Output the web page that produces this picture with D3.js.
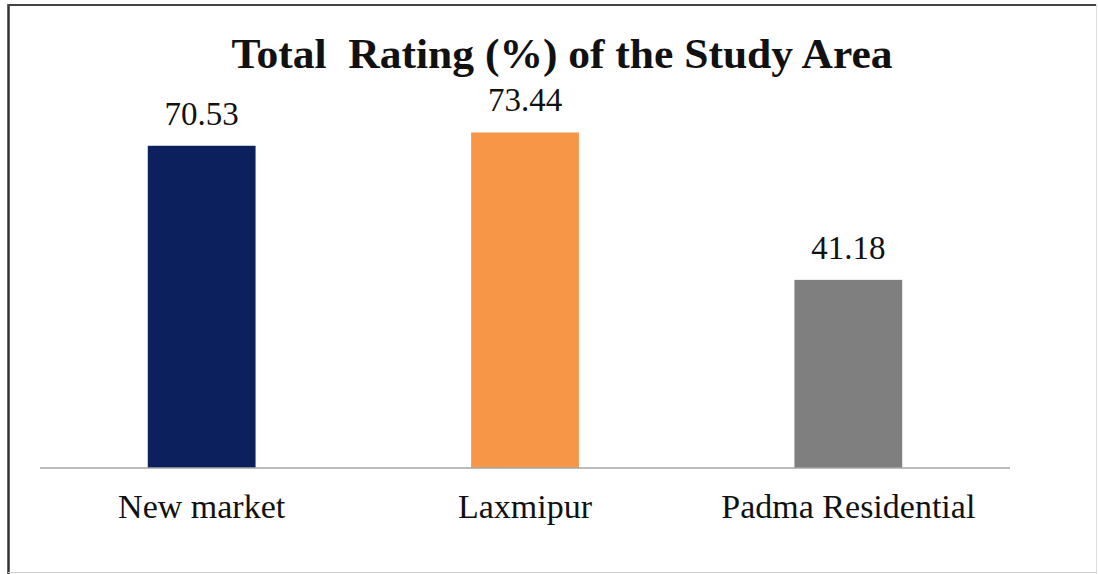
<!DOCTYPE html>
<html>
<head>
<meta charset="utf-8">
<script src="https://cdn.jsdelivr.net/npm/d3@7"></script>
<style>
  body { margin: 0; background: #fff; }
  text { font-family: "Liberation Serif", "Times New Roman", serif; fill: #111; }
</style>
</head>
<body>
<svg id="chart" width="1098" height="574"></svg>
<script>
/* chart data */
var categories = ["New market", "Laxmipur", "Padma Residential"];
var ratings = [70.53, 73.44, 41.18];
var barColors = ["#0c205e", "#f79646", "#7f7f7f"];

(function() {
  var svg = d3.select("#chart");

  // frame round the chart
  svg.append("line").attr("x1", 8.5).attr("y1", 4).attr("x2", 8.5).attr("y2", 574)
    .attr("stroke", "#333").attr("stroke-width", 2.5);
  svg.append("line").attr("x1", 8).attr("y1", 5).attr("x2", 1097).attr("y2", 5)
    .attr("stroke", "#444").attr("stroke-width", 2);
  svg.append("line").attr("x1", 1096.5).attr("y1", 4).attr("x2", 1096.5).attr("y2", 574)
    .attr("stroke", "#ddd").attr("stroke-width", 1);
  svg.append("line").attr("x1", 8).attr("y1", 572.5).attr("x2", 1097).attr("y2", 572.5)
    .attr("stroke", "#ccc").attr("stroke-width", 1);

  var x = d3.scaleBand()
    .domain(categories)
    .range([40, 1010])
    .paddingInner(2 / 3)
    .paddingOuter(1 / 3);

  var y = d3.scaleLinear()
    .domain([0, 80])
    .range([468, 102.5]);

  // bars
  svg.selectAll("rect.bar")
    .data(ratings)
    .enter().append("rect")
    .attr("class", "bar")
    .attr("x", function(d, i) { return x(categories[i]); })
    .attr("y", function(d) { return y(d); })
    .attr("width", x.bandwidth())
    .attr("height", function(d) { return y(0) - y(d); })
    .attr("fill", function(d, i) { return barColors[i]; });

  // baseline (category axis)
  var xAxis = svg.append("g")
    .attr("transform", "translate(0," + y(0) + ")")
    .call(d3.axisBottom(x).tickSize(0).tickPadding(26));
  xAxis.select(".domain").attr("stroke", "#a6a6a6").attr("stroke-width", 1.5)
    .attr("d", "M40,0H1010");
  xAxis.selectAll("text")
    .style("font-family", "'Liberation Serif', serif")
    .style("font-size", "34px")
    .attr("fill", "#111");

  // value labels
  svg.selectAll("text.value")
    .data(ratings)
    .enter().append("text")
    .attr("class", "value")
    .attr("x", function(d, i) { return x(categories[i]) + x.bandwidth() / 2; })
    .attr("y", function(d) { return y(d) - 21; })
    .attr("text-anchor", "middle")
    .style("font-size", "33px")
    .text(function(d) { return d.toFixed(2); });

  // title
  svg.append("text")
    .attr("x", 562)
    .attr("y", 68)
    .attr("text-anchor", "middle")
    .attr("textLength", 661)
    .attr("lengthAdjust", "spacingAndGlyphs")
    .style("font-size", "42px")
    .style("font-weight", "bold")
    .style("white-space", "pre")
    .text("Total  Rating (%) of the Study Area");
})();
</script>
</body>
</html>
